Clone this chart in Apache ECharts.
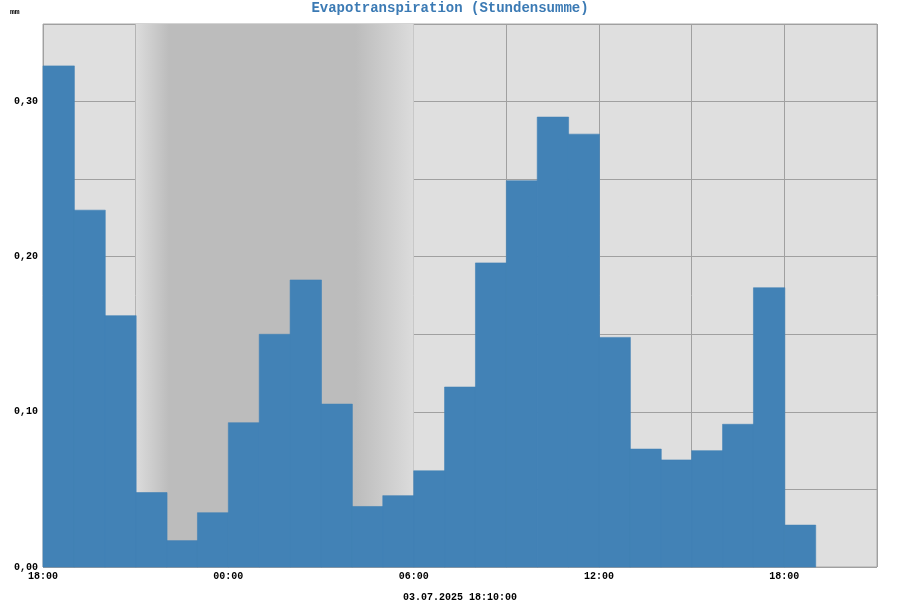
<!DOCTYPE html>
<html><head><meta charset="utf-8">
<script src="https://cdn.jsdelivr.net/npm/echarts@6/dist/echarts.min.js"></script>
<style>html,body{margin:0;padding:0;background:#fff}#c{width:900px;height:600px}</style>
</head><body><div id="c"></div>
<script>
// hours after 03.07.2025 18:00
const hourStarts = [0,1,2,3,4,5,6,7,8,9,10,11,12,13,14,15,16,17,18,19,20,21,22,23,24];
const values = [0.323,0.230,0.162,0.048,0.017,0.035,0.093,0.150,0.185,0.105,0.039,0.046,0.062,0.116,0.196,0.249,0.290,0.279,0.148,0.076,0.069,0.075,0.092,0.180,0.027];
const tickLabels = {0:'18:00',6:'00:00',12:'06:00',18:'12:00',24:'18:00'};
const nightStart = 3, nightEnd = 12;
const xLabel = '03.07.2025 18:10:00';
const font = 'Liberation Mono';

const chart = echarts.init(document.getElementById('c'));
chart.setOption({
  animation:false,
  backgroundColor:'#fff',
  title:{text:'Evapotranspiration (Stundensumme)',left:'center',top:1,padding:0,
    textStyle:{fontFamily:font,fontWeight:'bold',fontSize:14,lineHeight:14,color:'#3b7ab4'}},
  graphic:[{type:'text',left:10,top:8,style:{text:'mm',font:'bold 8px '+font,fill:'#000'}}],
  grid:{left:43,right:23,top:24,bottom:33,outerBoundsMode:'none',containLabel:false,
    show:true,backgroundColor:'#dfdfdf',borderColor:'#a8a8a8',borderWidth:1},
  xAxis:{type:'value',min:0,max:27,interval:3,
    name:xLabel,nameLocation:'middle',nameGap:25,
    nameTextStyle:{fontFamily:font,fontWeight:'bold',fontSize:10,color:'#000'},
    axisLine:{show:false},axisTick:{show:false},
    axisLabel:{fontFamily:font,fontWeight:'bold',fontSize:10,color:'#000',margin:4,
      formatter:v=>tickLabels[v]||''},
    splitLine:{show:true,lineStyle:{color:'#a0a0a0',width:1}}},
  yAxis:{type:'value',min:0,max:0.35,interval:0.05,
    axisLine:{show:false},axisTick:{show:false},
    axisLabel:{fontFamily:font,fontWeight:'bold',fontSize:10,color:'#000',margin:5,
      formatter:v=>{const r=Math.round(v*100);return r%10===0?(v.toFixed(2).replace('.',',')):'';}},
    splitLine:{show:true,lineStyle:{color:'#a0a0a0',width:1}}},
  series:[{
    type:'custom',
    data:hourStarts.map((h,i)=>[h,values[i]]),
    encode:{x:0,y:1},
    renderItem:(params,api)=>{
      const p0=api.coord([api.value(0),0]);
      const p1=api.coord([api.value(0)+1,api.value(1)]);
      return {type:'rect',shape:{x:p0[0],y:p1[1],width:p1[0]-p0[0]+0.5,height:p0[1]-p1[1]},
        style:{fill:'#4282b6',stroke:'#4282b6',lineWidth:0.6}};
    },
    z:3,
    markArea:{silent:true,z:1,
      itemStyle:{color:new echarts.graphic.LinearGradient(0,0,1,0,[
        {offset:0,color:'#dcdcdc'},{offset:0.12,color:'#bcbcbc'},
        {offset:0.79,color:'#bcbcbc'},{offset:1,color:'#dcdcdc'}])},
      data:[[{xAxis:nightStart},{xAxis:nightEnd}]]}
  }]
});
</script></body></html>
